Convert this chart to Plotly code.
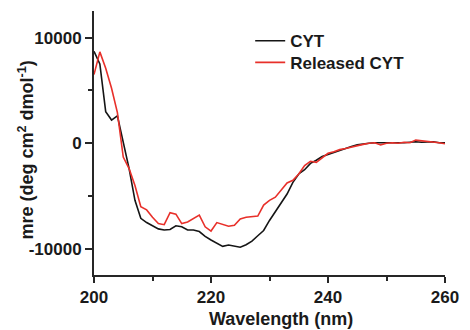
import plotly.graph_objects as go

wavelength = list(range(200, 261))

cyt = [8700, 7500, 3000, 2200, 2600, 0, -2400, -5400, -7100, -7500,
       -7800, -8100, -8200, -8150, -7800, -7900, -8200, -8200, -8350, -8800,
       -9150, -9450, -9750, -9620, -9700, -9830, -9600, -9250, -8750, -8250,
       -7300, -6500, -5600, -4800, -3700, -2900, -2500, -1900, -1600, -1250,
       -1050, -850, -650, -450, -300, -150, -50, 0, 50, 50,
       0, 50, 0, 50, 100, 150, 100, 150, 150, 50,
       50]

released_cyt = [6500, 8650, 7100, 5200, 2900, -1300, -2400, -4000, -6000, -6300,
                -7000, -7600, -7700, -6560, -6700, -7600, -7450, -7100, -6800, -7900,
                -8300, -7500, -7700, -7850, -7750, -7150, -7000, -6950, -6880, -5850,
                -5400, -5100, -4400, -3750, -3500, -2900, -2100, -1700, -1800, -1350,
                -950, -800, -600, -500, -350, -250, -100, 0, 50, -150,
                0, 50, 0, 100, 50, 300, 250, 150, 100, 50,
                -50]

x_tickvals = [200, 220, 240, 260]
x_ticktext = ["200", "220", "240", "260"]
y_tickvals = [-10000, 0, 10000]
y_ticktext = ["-10000", "0", "10000"]

FONT = "Liberation Sans, Arial, sans-serif"
AX = "#262626"
TXT = "#1a1a1a"
legfont = dict(family=FONT, size=17, color=TXT, weight="bold")

fig = go.Figure()
fig.add_trace(go.Scatter(x=wavelength, y=cyt, mode="lines", name="CYT",
                         line=dict(color="#151515", width=1.6), legend="legend"))
fig.add_trace(go.Scatter(x=wavelength, y=released_cyt, mode="lines", name="Released CYT",
                         line=dict(color="#e8302a", width=1.6), legend="legend2"))

fig.update_layout(
    width=470, height=330,
    margin=dict(l=94, r=17, t=11, b=55),
    paper_bgcolor="white", plot_bgcolor="white",
    showlegend=True,
    legend=dict(x=0.445, y=0.954, xanchor="left", yanchor="top",
                bgcolor="rgba(0,0,0,0)", borderwidth=0, font=legfont),
    legend2=dict(x=0.445, y=0.872, xanchor="left", yanchor="top",
                 bgcolor="rgba(0,0,0,0)", borderwidth=0, font=legfont),
    xaxis=dict(range=[200, 260], showgrid=False, zeroline=False,
               showline=True, linewidth=2, linecolor=AX,
               ticks="outside", ticklen=6, tickwidth=2, tickcolor=AX,
               tickvals=x_tickvals, ticktext=x_ticktext,
               tickfont=dict(family=FONT, size=17, color=TXT, weight="bold"),
               minor=dict(dtick=10, tick0=200, ticks="outside", ticklen=4,
                          tickwidth=2, tickcolor=AX)),
    yaxis=dict(range=[-12460, 12516], showgrid=False, zeroline=False,
               showline=True, linewidth=2, linecolor=AX,
               ticks="outside", ticklen=7, tickwidth=2, tickcolor=AX,
               tickvals=y_tickvals, ticktext=y_ticktext,
               tickfont=dict(family=FONT, size=17, color=TXT, weight="bold"),
               minor=dict(dtick=5000, tick0=0, ticks="outside", ticklen=4,
                          tickwidth=2, tickcolor=AX)),
)

fig.add_annotation(text="Wavelength (nm)", xref="paper", yref="paper",
                   x=0.534, y=-0.167, xanchor="center", yanchor="middle",
                   showarrow=False,
                   font=dict(family=FONT, size=18, color=TXT, weight="bold"))
fig.add_annotation(text="mre (deg cm<sup>2</sup> dmol<sup>-1</sup>)",
                   xref="paper", yref="paper",
                   x=-0.192, y=0.4735, xanchor="center", yanchor="middle",
                   textangle=-90, showarrow=False,
                   font=dict(family=FONT, size=18, color=TXT, weight="bold"))

fig.write_html("out.html")
